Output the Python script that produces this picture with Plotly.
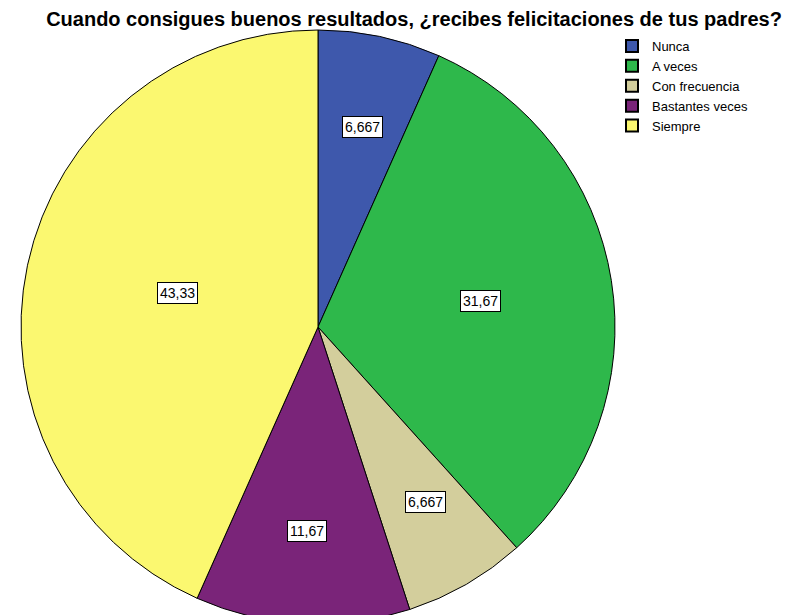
import math
import plotly.graph_objects as go

categories = ["Nunca", "A veces", "Con frecuencia", "Bastantes veces", "Siempre"]
values = [6.667, 31.67, 6.667, 11.67, 43.33]
value_labels = ["6,667", "31,67", "6,667", "11,67", "43,33"]
colors = ["#3E58AC", "#2EB84B", "#D3CE9C", "#7A2479", "#FBF870"]

# figure size (page has an 8px body margin; bottom of the pie runs off the window)
W, H = 801, 640
CX, CY, R = 310, 319, 297          # pie centre / radius in figure pixels (from top-left)
dom_x = [(CX - R) / W, (CX + R) / W]
dom_y = [(H - CY - R) / H, (H - CY + R) / H]

fig = go.Figure(go.Pie(
    labels=categories,
    values=values,
    sort=False,
    direction="clockwise",
    rotation=0,
    marker=dict(colors=colors, line=dict(color="#000000", width=1)),
    textinfo="none",
    hoverinfo="label+value",
    domain=dict(x=dom_x, y=dom_y),
))

# label boxes placed along each slice's mid angle
total = sum(values)
cum = 0.0
annotations = []
for v, lab in zip(values, value_labels):
    mid = (cum + v / 2) / total * 2 * math.pi
    cum += v
    frac = 0.725 if v / total < 0.2 else 0.555
    px = CX + math.sin(mid) * R * frac
    py = CY - math.cos(mid) * R * frac
    annotations.append(dict(
        x=px / W, y=1 - py / H, xref="paper", yref="paper",
        text=lab, showarrow=False,
        font=dict(family="Liberation Sans, Arial", size=14, color="#000000"),
        bgcolor="#FFFFFF", bordercolor="#000000", borderwidth=1, borderpad=2,
    ))

fig.update_layout(
    width=W, height=H,
    margin=dict(l=0, r=0, t=0, b=0),
    paper_bgcolor="#FFFFFF",
    title=dict(
        text="<b>Cuando consigues buenos resultados, ¿recibes felicitaciones de tus padres?</b>",
        x=406 / W, xanchor="center", y=1 - 11 / H, yanchor="middle",
        font=dict(family="Liberation Sans, Arial", size=20, color="#000000"),
    ),
    legend=dict(
        x=604 / W, y=1 - 23 / H, xanchor="left", yanchor="top",
        font=dict(family="Liberation Sans, Arial", size=13, color="#000000"),
        bgcolor="rgba(0,0,0,0)", itemsizing="constant",
        tracegroupgap=0,
    ),
    annotations=annotations,
)

fig.write_html("out.html")
